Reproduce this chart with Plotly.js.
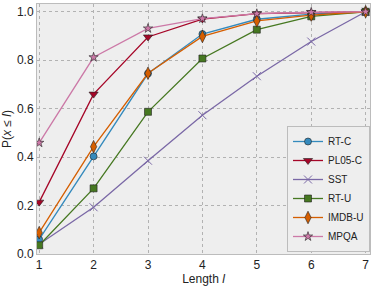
<!DOCTYPE html>
<html><head><meta charset="utf-8">
<script src="https://cdn.plot.ly/plotly-3.0.1.min.js"></script>
<style>html,body{margin:0;padding:0;background:#fff}#c{width:374px;height:286px}</style>
</head><body><div id="c"></div>
<script>
const lengths = [1, 2, 3, 4, 5, 6, 7];
const rtC   = [0.060, 0.403, 0.745, 0.908, 0.969, 0.990, 1.0];
const pl05C = [0.214, 0.660, 0.896, 0.970, 0.992, 0.997, 1.0];
const sst   = [0.040, 0.193, 0.385, 0.573, 0.734, 0.877, 1.0];
const rtU   = [0.036, 0.271, 0.587, 0.807, 0.926, 0.981, 1.0];
const imdbU = [0.088, 0.443, 0.746, 0.898, 0.962, 0.986, 1.0];
const mpqa  = [0.459, 0.812, 0.931, 0.972, 0.992, 0.998, 1.0];
const names = ['RT-C', 'PL05-C', 'SST', 'RT-U', 'IMDB-U', 'MPQA'];

const series = [rtC, pl05C, sst, rtU, imdbU, mpqa];
const colors = ['#348ABD', '#A60628', '#7A68A6', '#467821', '#D55E00', '#CC79A7'];
const symbols = ['circle', 'triangle-down', 'x-thin', 'square', 'diamond-tall', 'star'];
const sizes = [7, 8, 8, 7, 9, 7];

const traces = series.map((ys, i) => ({
  x: lengths, y: ys, name: names[i], type: 'scatter', mode: 'lines+markers',
  line: {color: colors[i], width: 1.3},
  marker: {symbol: symbols[i], size: sizes[i], color: colors[i],
    line: {color: symbols[i] === 'x-thin' ? colors[i] : '#222', width: symbols[i] === 'x-thin' ? 1 : 0.6}}
}));

const layout = {
  width: 374, height: 286,
  margin: {l: 37, r: 4, t: 4, b: 32},
  paper_bgcolor: '#ffffff', plot_bgcolor: '#eeeeee',
  font: {family: 'Liberation Sans, Arial, sans-serif', size: 12, color: '#222'},
  showlegend: true,
  legend: {x: 1, xanchor: 'right', y: 0.008, yanchor: 'bottom', bgcolor: '#eeeeee',
    bordercolor: '#bcbcbc', borderwidth: 1, font: {size: 10}, tracegroupgap: 0,
    itemwidth: 30},
  xaxis: {range: [0.96, 7.08], tickvals: lengths, ticktext: lengths.map(String),
    showgrid: true, gridcolor: '#b2b2b2', griddash: 'dot', gridwidth: 1,
    showline: true, linecolor: '#bcbcbc', mirror: true, zeroline: false, ticks: '',
    automargin: false,
    title: {text: 'Length <i>l</i>', font: {size: 12}, standoff: 6}},
  yaxis: {range: [0, 1.032], tickvals: [0, 0.2, 0.4, 0.6, 0.8, 1.0], tickformat: '.1f',
    showgrid: true, gridcolor: '#b2b2b2', griddash: 'dot', gridwidth: 1,
    showline: true, linecolor: '#bcbcbc', mirror: true, zeroline: false, ticks: '',
    automargin: false,
    title: {text: 'P(<i>x</i> ≤ <i>l</i>)', font: {size: 12}, standoff: 4}}
};
Plotly.newPlot('c', traces, layout, {staticPlot: true, displayModeBar: false});
</script></body></html>
